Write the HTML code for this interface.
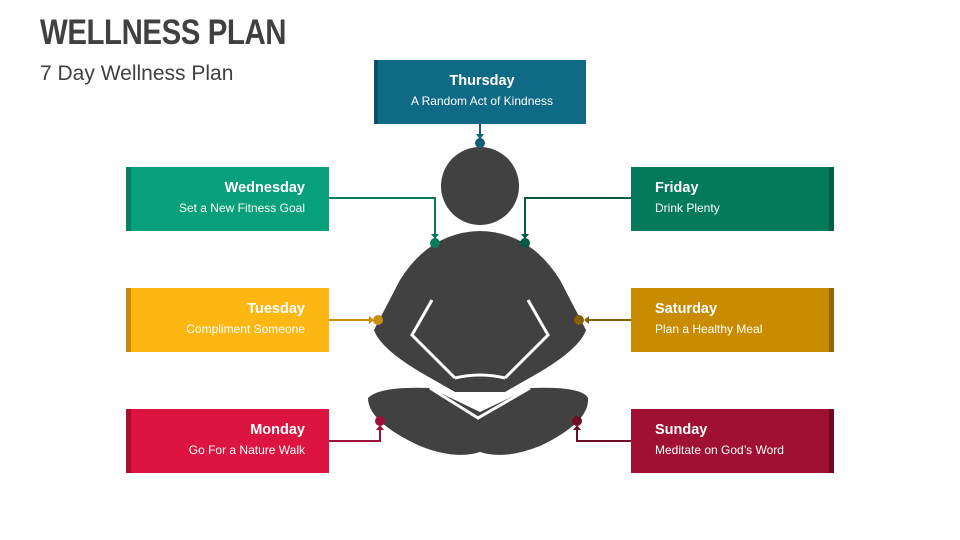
<!DOCTYPE html>
<html><head><style>
body{margin:0;width:960px;height:540px;background:#fff;position:relative;overflow:hidden;font-family:"Liberation Sans",sans-serif;}
.t{position:absolute;left:40px;top:13px;font-size:35px;font-weight:bold;color:#404040;letter-spacing:-0.5px;transform:scaleX(0.84);transform-origin:0 0}
.s{position:absolute;left:40px;top:62px;font-size:21px;color:#404040}
.b{position:absolute;width:203px;height:64px;color:#fff;box-sizing:border-box;font-size:12px}
.b .h{font-weight:bold;font-size:14.5px;margin-top:13px}
.b .d{margin-top:5px}
.l{text-align:right;padding-right:24px}
.r{text-align:left;padding-left:24px}
</style></head><body>
<div class="t">WELLNESS PLAN</div>
<div class="s">7 Day Wellness Plan</div>
<svg width="960" height="540" style="position:absolute;left:0;top:0">
<g fill="#414141">
<circle cx="480" cy="186" r="39"/>
<path d="M400 280 Q430 232 480 231 Q530 232 560 280 L586 330 Q580 348 540 372 L505 392 L455 392 L420 372 Q380 348 374 330 Z"/>
<path d="M368 398 Q380 386 430 388 L480 412 L530 388 Q582 386 588 398 Q590 422 540 446 Q505 460 480 452 Q455 460 420 446 Q368 422 368 398 Z"/>
</g>
<g fill="none" stroke="#fff" stroke-width="3">
<polyline points="432,300 412,335 455,378"/>
<polyline points="528,300 548,335 505,378"/>
<polyline points="430,388 478,418 530,388"/>
<path d="M455 378 Q480 372 505 378"/>
</g>
<g stroke-width="2" fill="none">
<path d="M480 123 V136" stroke="#0f5f78"/>
<path d="M329 198 H435 V236" stroke="#0a7a5a"/>
<path d="M631 198 H525 V236" stroke="#065a44"/>
<path d="M329 320 H371" stroke="#c8900a"/>
<path d="M631 320 H586" stroke="#8a6000"/>
<path d="M329 441 H380 V428" stroke="#a0103a"/>
<path d="M631 441 H577 V428" stroke="#6e0f25"/>
</g>
<g>
<path d="M476 134 L484 134 L480 139Z" fill="#0f5f78"/><circle cx="480" cy="143" r="5" fill="#0f5f78"/>
<path d="M431 234 L439 234 L435 239Z" fill="#0a7a5a"/><circle cx="435" cy="243" r="5" fill="#0a7a5a"/>
<path d="M521 234 L529 234 L525 239Z" fill="#065a44"/><circle cx="525" cy="243" r="5" fill="#065a44"/>
<path d="M369 316 L369 324 L374 320Z" fill="#c8900a"/><circle cx="378" cy="320" r="5" fill="#c8900a"/>
<path d="M589 316 L589 324 L584 320Z" fill="#8a6000"/><circle cx="579" cy="320" r="5" fill="#8a6000"/>
<path d="M376 430 L384 430 L380 425Z" fill="#a0103a"/><circle cx="380" cy="421" r="5" fill="#a0103a"/>
<path d="M573 430 L581 430 L577 425Z" fill="#6e0f25"/><circle cx="577" cy="421" r="5" fill="#6e0f25"/>
</g>
</svg>
<div class="b" style="left:374px;top:60px;width:212px;text-align:center;background:#0f6a86;border-left:4px solid #0b5069"><div class="h">Thursday</div><div class="d">A Random Act of Kindness</div></div>
<div class="b l" style="left:126px;top:167px;background:#07a07a;border-left:5px solid #078060"><div class="h">Wednesday</div><div class="d">Set a New Fitness Goal</div></div>
<div class="b l" style="left:126px;top:288px;background:#fdb713;border-left:5px solid #c88a00"><div class="h">Tuesday</div><div class="d">Compliment Someone</div></div>
<div class="b l" style="left:126px;top:409px;background:#dc143f;border-left:5px solid #a5102f"><div class="h">Monday</div><div class="d">Go For a Nature Walk</div></div>
<div class="b r" style="left:631px;top:167px;background:#057a5a;border-right:5px solid #045e45"><div class="h">Friday</div><div class="d">Drink Plenty</div></div>
<div class="b r" style="left:631px;top:288px;background:#c98c00;border-right:5px solid #946500"><div class="h">Saturday</div><div class="d">Plan a Healthy Meal</div></div>
<div class="b r" style="left:631px;top:409px;background:#a01032;border-right:5px solid #700a22"><div class="h">Sunday</div><div class="d">Meditate on God’s Word</div></div>
</body></html>
